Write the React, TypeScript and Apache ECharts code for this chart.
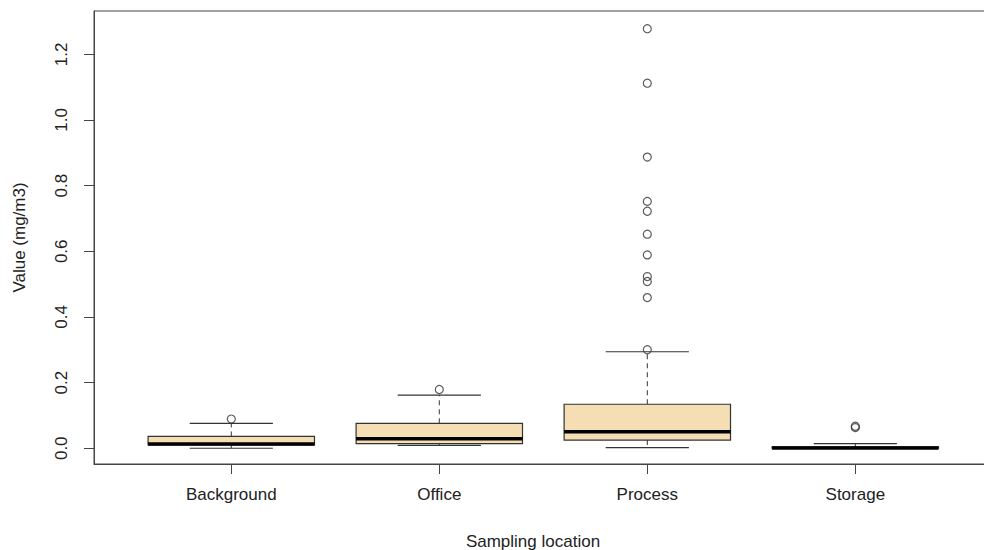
import React, { useEffect, useRef } from "react";
import * as echarts from "echarts";

const categories = ["Background", "Office", "Process", "Storage"];
const lowerWhisker = [0.0, 0.009, 0.002, 0.0];
const q1 = [0.01, 0.014, 0.025, 0.0];
const median = [0.013, 0.029, 0.05, 0.001];
const q3 = [0.036, 0.076, 0.134, 0.004];
const upperWhisker = [0.076, 0.162, 0.294, 0.014];

const outliersBackground = [0.089];
const outliersOffice = [0.179];
const outliersProcess = [1.278, 1.112, 0.887, 0.752, 0.722, 0.652, 0.589, 0.523, 0.508, 0.459, 0.3];
const outliersStorage = [0.063, 0.067];

const yTicks = [0, 0.2, 0.4, 0.6, 0.8, 1.0, 1.2];
const xTicks = [1, 2, 3, 4];

const FONT = "'Liberation Sans', Arial, sans-serif";
const LINE = "#333";
const TEXT = "#222";

export default function App() {
  const ref = useRef<HTMLDivElement>(null);

  useEffect(() => {
    if (!ref.current) return;
    const chart = echarts.init(ref.current, undefined, { renderer: "svg" });

    const boxData = categories.map((_, i) => [
      i + 1,
      lowerWhisker[i],
      q1[i],
      median[i],
      q3[i],
      upperWhisker[i],
    ]);

    const outlierGroups = [outliersBackground, outliersOffice, outliersProcess, outliersStorage];
    const outlierData: number[][] = [];
    outlierGroups.forEach((g, i) => g.forEach((v) => outlierData.push([i + 1, v])));

    const option: any = {
      animation: false,
      backgroundColor: "#fff",
      textStyle: { fontFamily: FONT },
      grid: {
        left: 94,
        top: 11,
        width: 898.6,
        height: 453,
        containLabel: false,
        outerBoundsMode: "none",
        show: true,
        borderColor: "#444",
        borderWidth: 1,
        backgroundColor: "transparent",
      },
      xAxis: {
        type: "value",
        min: 0.34,
        max: 4.66,
        splitLine: { show: false },
        axisLine: { show: true, onZero: false, lineStyle: { color: "#444", width: 1 } },
        axisTick: {
          show: true,
          length: 10,
          customValues: xTicks,
          lineStyle: { color: "#444", width: 1 },
        },
        axisLabel: {
          customValues: xTicks,
          margin: 22,
          fontSize: 17,
          fontFamily: FONT,
          color: TEXT,
          formatter: (v: number) => categories[Math.round(v) - 1] ?? "",
        },
      },
      yAxis: {
        type: "value",
        min: -0.048,
        max: 1.332,
        splitLine: { show: false },
        axisLine: { show: true, onZero: false, lineStyle: { color: "#444", width: 1 } },
        axisTick: {
          show: true,
          length: 10,
          customValues: yTicks,
          lineStyle: { color: "#444", width: 1 },
        },
        axisLabel: {
          customValues: yTicks,
          rotate: 90,
          margin: 24,
          fontSize: 17,
          fontFamily: FONT,
          color: TEXT,
          formatter: (v: number) => v.toFixed(1),
        },
        name: "Value (mg/m3)",
        nameLocation: "middle",
        nameGap: 66,
        nameRotate: 90,
        nameTextStyle: { fontSize: 17, fontFamily: FONT, color: TEXT },
      },
      graphic: [
        {
          type: "text",
          x: 533,
          y: 541,
          style: {
            text: "Sampling location",
            fontSize: 17,
            fontFamily: FONT,
            fill: TEXT,
            textAlign: "center",
            textVerticalAlign: "middle",
          },
        },
      ],
      series: [
        {
          type: "custom",
          data: boxData,
          encode: { x: 0, y: [1, 2, 3, 4, 5] },
          renderItem: (params: any, api: any) => {
            const x = api.value(0);
            const half = api.size([0.4, 0])[0];
            const capHalf = half / 2;
            const [cx, yLw] = api.coord([x, api.value(1)]);
            const yQ1 = api.coord([x, api.value(2)])[1];
            const yMed = api.coord([x, api.value(3)])[1];
            const yQ3 = api.coord([x, api.value(4)])[1];
            const yUw = api.coord([x, api.value(5)])[1];
            return {
              type: "group",
              children: [
                {
                  type: "line",
                  shape: { x1: cx, y1: yQ3, x2: cx, y2: yUw },
                  style: { stroke: LINE, lineWidth: 1, lineDash: [5, 4] },
                },
                {
                  type: "line",
                  shape: { x1: cx, y1: yQ1, x2: cx, y2: yLw },
                  style: { stroke: LINE, lineWidth: 1, lineDash: [5, 4] },
                },
                {
                  type: "line",
                  shape: { x1: cx - capHalf, y1: yUw, x2: cx + capHalf, y2: yUw },
                  style: { stroke: LINE, lineWidth: 1.2 },
                },
                {
                  type: "line",
                  shape: { x1: cx - capHalf, y1: yLw, x2: cx + capHalf, y2: yLw },
                  style: { stroke: LINE, lineWidth: 1.2 },
                },
                {
                  type: "rect",
                  shape: { x: cx - half, y: yQ3, width: 2 * half, height: yQ1 - yQ3 },
                  style: { fill: "#F5DEB3", stroke: LINE, lineWidth: 1.2 },
                },
                {
                  type: "line",
                  shape: { x1: cx - half, y1: yMed, x2: cx + half, y2: yMed },
                  style: { stroke: "#000", lineWidth: 3.5 },
                },
              ],
            };
          },
          z: 2,
        },
        {
          type: "scatter",
          data: outlierData,
          symbol: "circle",
          symbolSize: 8,
          itemStyle: { color: "transparent", borderColor: LINE, borderWidth: 1.2 },
          z: 3,
        },
      ],
    };

    chart.setOption(option);
    return () => chart.dispose();
  }, []);

  return (
    <div
      ref={ref}
      style={{ position: "fixed", left: 0, top: 0, width: 984, height: 550, background: "#fff" }}
    />
  );
}
